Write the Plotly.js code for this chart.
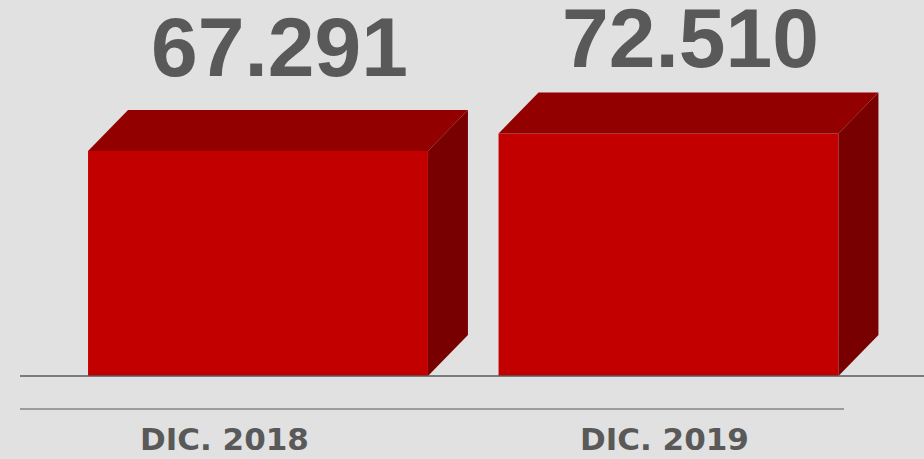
<!DOCTYPE html>
<html>
<head>
<meta charset="utf-8">
<script src="https://cdn.plot.ly/plotly-3.0.1.min.js"></script>
<style>
    html, body {margin: 0; padding: 0; background: #e1e1e1;}
    #chart {width: 924px; height: 459px;}
</style>
</head>
<body>
<div id="chart"></div>
<script>
const categories = ["DIC. 2018", "DIC. 2019"];
const values = [67291, 72510];
const valueLabels = ["67.291", "72.510"];

const chartDiv = document.getElementById("chart");

// box look: bar width and the depth of the fake 3d faces, in axis units
const barWidth = 0.828;
const depthX = 0.0974;
const depthY = 12260;

const frontColor = "#c20000";
const topColor = "#920000";
const sideColor = "#780000";
const textColor = "#595959";

function render() {
    const xs = categories.map((c, i) => i);

    const traces = [
        {
            x: xs,
            y: values,
            type: "bar",
            width: barWidth,
            marker: {color: frontColor, line: {width: 0}},
            hoverinfo: "skip"
        }
    ];

    xs.forEach((x, i) => {
        const left = x - barWidth / 2;
        const right = x + barWidth / 2;
        const v = values[i];
        traces.push({
            x: [left, left + depthX, right + depthX, right, left],
            y: [v, v + depthY, v + depthY, v, v],
            type: "scatter",
            mode: "lines",
            fill: "toself",
            fillcolor: topColor,
            line: {width: 0, color: topColor},
            hoverinfo: "skip"
        });
        traces.push({
            x: [right, right + depthX, right + depthX, right, right],
            y: [v, v + depthY, depthY, 0, v],
            type: "scatter",
            mode: "lines",
            fill: "toself",
            fillcolor: sideColor,
            line: {width: 0, color: sideColor},
            hoverinfo: "skip"
        });
    });

    // small per-label nudges so the texts sit like in the original slide
    const catShift = [-34, -4];
    const valueLift = [63, 55];
    const annotations = [];
    xs.forEach((x, i) => {
        annotations.push({
            x: x + depthX / 2,
            y: values[i] + depthY,
            xref: "x",
            yref: "y",
            text: valueLabels[i],
            showarrow: false,
            xshift: 2,
            yshift: valueLift[i],
            yanchor: "middle",
            font: {family: "Liberation Sans, Arial, sans-serif", size: 84, color: textColor, weight: "bold"}
        });
        annotations.push({
            x: x,
            y: 0.044,
            xref: "x",
            yref: "paper",
            text: "<b>" + categories[i] + "</b>",
            showarrow: false,
            xshift: catShift[i],
            yanchor: "middle",
            font: {family: "DejaVu Sans, sans-serif", size: 31, color: textColor}
        });
    });

    const layout = {
        width: 924,
        height: 459,
        margin: {t: 0, r: 0, b: 0, l: 0},
        paper_bgcolor: "#e1e1e1",
        plot_bgcolor: "#e1e1e1",
        showlegend: false,
        xaxis: {
            range: [-0.6285, 1.6224],
            showgrid: false, zeroline: false, showticklabels: false, showline: false
        },
        yaxis: {
            range: [-24823, 112451],
            showgrid: false, zeroline: false, showticklabels: false, showline: false
        },
        shapes: [
            {type: "line", xref: "paper", yref: "y", x0: 20 / 924, x1: 1, y0: 0, y1: 0,
             line: {color: "#595959", width: 1.5}},
            {type: "line", xref: "paper", yref: "paper", x0: 20 / 924, x1: 844 / 924,
             y0: 50 / 459, y1: 50 / 459, line: {color: "#9c9c9c", width: 2}}
        ],
        annotations: annotations
    };

    Plotly.newPlot(chartDiv, traces, layout, {displayModeBar: false, staticPlot: true});
}

render();
</script>
</body>
</html>
